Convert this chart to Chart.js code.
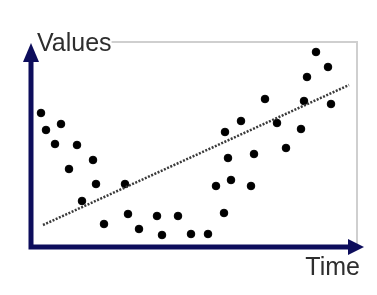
<!DOCTYPE html>
<html>
<head>
<meta charset="utf-8">
<script src="https://cdn.jsdelivr.net/npm/chart.js@4.4.1/dist/chart.umd.min.js"></script>
<style>
  html, body { margin: 0; padding: 0; background: #fff; }
  #wrap { width: 377px; height: 295px; }
</style>
</head>
<body>
<div id="wrap"><canvas id="chart"></canvas></div>
<script>
// scatter points (arbitrary units)
const timeValues = [10, 15, 30, 24, 46, 62, 38, 65, 94, 51, 73, 97, 108, 126, 131, 147, 160, 177,
    193, 185, 200, 220, 197, 223, 194, 210, 234, 246, 255, 270, 273, 276, 285, 297, 300];
const measuredValues = [134, 117, 123, 103, 102, 87, 78, 63, 63, 46, 23, 33, 18, 31, 12, 31, 13, 13,
    34, 61, 67, 61, 89, 93, 115, 126, 148, 124, 99, 118, 146, 170, 195, 180, 143];

// dotted trend line end points
const trendTime = [12, 318];
const trendValues = [22, 162];

const xTitle = 'Time';
const yTitle = 'Values';

const axisColor = '#0d0d5c';

const axesPlugin = {
    id: 'arrowAxes',
    afterDraw(chart) {
        const { ctx, chartArea } = chart;
        const { left, right, top, bottom } = chartArea;
        ctx.save();

        ctx.font = '25px "Liberation Sans", Arial, sans-serif';
        ctx.fillStyle = '#2e2e2e';
        ctx.textBaseline = 'alphabetic';
        ctx.textAlign = 'left';
        ctx.fillText(yTitle, left + 6, top + 9);
        const titleEnd = left + 6 + ctx.measureText(yTitle).width;

        // light frame on top and right
        ctx.strokeStyle = '#cfcfcf';
        ctx.lineWidth = 2;
        ctx.beginPath();
        ctx.moveTo(titleEnd, top);
        ctx.lineTo(right, top);
        ctx.lineTo(right, bottom);
        ctx.stroke();

        // axes
        ctx.strokeStyle = axisColor;
        ctx.fillStyle = axisColor;
        ctx.lineWidth = 5;
        ctx.beginPath();
        ctx.moveTo(left, top + 14);
        ctx.lineTo(left, bottom);
        ctx.lineTo(right - 6, bottom);
        ctx.stroke();

        ctx.beginPath();
        ctx.moveTo(left, top + 1);
        ctx.lineTo(left - 8, top + 20);
        ctx.lineTo(left + 8, top + 20);
        ctx.closePath();
        ctx.fill();

        ctx.beginPath();
        ctx.moveTo(right + 7, bottom);
        ctx.lineTo(right - 9, bottom - 8);
        ctx.lineTo(right - 9, bottom + 8);
        ctx.closePath();
        ctx.fill();

        ctx.fillStyle = '#2e2e2e';
        ctx.textAlign = 'right';
        ctx.fillText(xTitle, right + 3, bottom + 28);
        ctx.restore();
    }
};

new Chart(document.getElementById('chart'), {
    type: 'scatter',
    data: {
        datasets: [
            {
                label: 'trend',
                type: 'line',
                data: trendTime.map((t, i) => ({ x: t, y: trendValues[i] })),
                borderColor: '#3a3a3a',
                borderWidth: 2.5,
                borderDash: [2, 1.5],
                pointRadius: 0,
                fill: false
            },
            {
                label: 'values',
                data: timeValues.map((t, i) => ({ x: t, y: measuredValues[i] })),
                backgroundColor: '#000',
                borderColor: '#000',
                pointRadius: 3.8,
                pointHoverRadius: 3.8
            }
        ]
    },
    options: {
        responsive: true,
        maintainAspectRatio: false,
        animation: false,
        layout: {
            padding: { left: 31, right: 20, top: 42, bottom: 48 }
        },
        scales: {
            x: { type: 'linear', min: 0, max: 326, display: false },
            y: { type: 'linear', min: 0, max: 205, display: false }
        },
        plugins: {
            legend: { display: false },
            tooltip: { enabled: false }
        }
    },
    plugins: [axesPlugin]
});
</script>
</body>
</html>
